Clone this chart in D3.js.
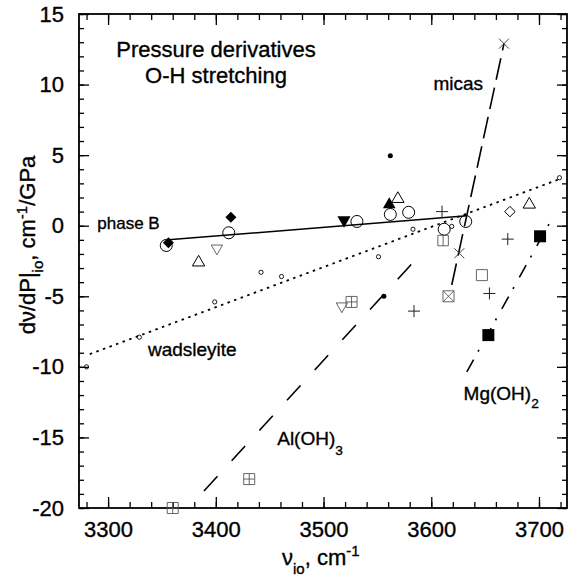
<!DOCTYPE html>
<html>
<head>
<meta charset="utf-8">
<script src="https://cdn.jsdelivr.net/npm/d3@7"></script>
<style>
  body { margin: 0; background: #fff; }
  text { font-family: "Liberation Sans", Arial, sans-serif; stroke: #000; stroke-width: 0.35px; }
</style>
</head>
<body>
<svg id="chart"></svg>
<script>
// axis ranges and ticks
const xDomain = [3273, 3726];
const yDomain = [-20, 15];
const xMajor = [3300, 3400, 3500, 3600, 3700];
const yMajor = [-20, -15, -10, -5, 0, 5, 10, 15];
const xMinor = d3.range(3280, 3721, 20);
const yMinor = d3.range(-20, 16, 1);

// fitted lines, end points as [nu, dnu/dP]
const phaseBFit = [[3356, -1.0], [3633, 0.7]];
const wadsleyiteFit = [[3283, -9.1], [3719, 3.3]];
const micasFit = [[3619, -4.2], [3667.5, 12.9]];
const alohFit = [[3389, -18.8], [3588, -2.2]];
const mgohFit = [[3633, -10.35], [3714, 0.76]];

// measured points, [nu, dnu/dP]
const openCircles = [[3354, -1.4], [3412, -0.5], [3531, 0.3], [3562, 0.8], [3579, 0.95], [3612, -0.25], [3632, 0.3]];
const smallCircles = [[3280, -10.0], [3329, -7.9], [3399, -5.4], [3442, -3.3], [3461, -3.6], [3551, -2.2], [3583, -0.25], [3619, -0.05], [3719, 3.4]];
const filledDiamonds = [[3356, -1.2], [3414, 0.6]];
const openDiamonds = [[3673, 1.0]];
const filledUpTriangles = [[3561, 1.5]];
const filledDownTriangles = [[3519, 0.4]];
const openUpTriangles = [[3384, -2.6], [3569, 1.9], [3691, 1.5]];
const openDownTriangles = [[3401, -1.6], [3517, -5.7]];
const filledSquares = [[3653, -7.75], [3701, -0.75]];
const openSquares = [[3647, -3.5]];
const splitSquares = [[3611, -1.05]];
const boxedPluses = [[3360, -20], [3431, -17.95], [3526, -5.4]];
const boxedCrosses = [[3616, -5.0]];
const pluses = [[3584, -6.05], [3610, 1.0], [3654, -4.8], [3671, -0.95]];
const crosses = [[3626, -1.95], [3667.5, 12.9]];
const filledDots = [[3556, -5.0], [3562, 4.95]];

const titleLines = ["Pressure derivatives", "O-H stretching"];

// set the dimensions and margins of the graph
const margin = {top: 14, right: 9, bottom: 69, left: 79},
    width = 576 - margin.left - margin.right,
    height = 577 - margin.top - margin.bottom;

const svg = d3.select("#chart").attr("width", 576).attr("height", 577);
const g = svg.append("g").attr("transform", `translate(${margin.left},${margin.top})`);

const x = d3.scaleLinear().domain(xDomain).range([0, width]);
const y = d3.scaleLinear().domain(yDomain).range([height, 0]);

// ticks on all four sides, pointing in
function tickAxis(axis, values, size, labels) {
  return sel => {
    sel.call(axis.tickValues(values).tickSize(-size).tickSizeOuter(0)
        .tickFormat(labels ? (d => String(d)) : ""))
      .attr("font-size", 22).attr("font-family", null);
    sel.select(".domain").remove();
    sel.selectAll(".tick line").attr("stroke-width", 1.3);
  };
}
g.append("g").attr("transform", `translate(0,${height})`)
  .call(tickAxis(d3.axisBottom(x), xMinor, 6, false));
g.append("g").attr("transform", `translate(0,${height})`)
  .call(tickAxis(d3.axisBottom(x).tickPadding(13), xMajor, 11, true));
g.append("g").call(tickAxis(d3.axisTop(x), xMinor, 6, false));
g.append("g").call(tickAxis(d3.axisTop(x), xMajor, 11, false));
g.append("g").call(tickAxis(d3.axisLeft(y), yMinor, 5, false));
g.append("g").call(tickAxis(d3.axisLeft(y).tickPadding(15), yMajor, 10, true));
g.append("g").attr("transform", `translate(${width},0)`)
  .call(tickAxis(d3.axisRight(y), yMinor, 5, false));
g.append("g").attr("transform", `translate(${width},0)`)
  .call(tickAxis(d3.axisRight(y), yMajor, 10, false));

g.append("rect").attr("width", width).attr("height", height)
  .attr("fill", "none").attr("stroke", "#000").attr("stroke-width", 1.8);

// fitted lines
const line = d3.line().x(d => x(d[0])).y(d => y(d[1]));
const fits = [
  [phaseBFit, null, 1.5],
  [wadsleyiteFit, "2.5,4.5", 1.8],
  [micasFit, "22,8", 1.6],
  [alohFit, "20,21", 1.6],
  [mgohFit, "14,9,2,11", 1.6]
];
fits.forEach(([pts, dash, w]) => {
  g.append("path").attr("d", line(pts)).attr("fill", "none")
    .attr("stroke", "#000").attr("stroke-width", w)
    .attr("stroke-dasharray", dash);
});

// markers
const symbolVBar = {draw(ctx, size) { const r = Math.sqrt(size) / 2; ctx.moveTo(0, -r); ctx.lineTo(0, r); }};
function marks(data, layers) {
  layers.forEach(l => {
    g.append("g").selectAll("path").data(data).join("path")
      .attr("transform", d => `translate(${x(d[0])},${y(d[1])})` + (l.rotate ? ` rotate(${l.rotate})` : ""))
      .attr("d", d3.symbol().type(l.type).size(l.size))
      .attr("fill", l.fill || "none")
      .attr("stroke", l.fill ? "none" : (l.stroke || "#000"))
      .attr("stroke-width", l.width || 1);
  });
}
const grey = "#555";
marks(smallCircles, [{type: d3.symbolCircle, size: 14, width: 0.9}]);
marks(openCircles, [{type: d3.symbolCircle, size: 113, width: 1}]);
marks(filledDiamonds, [{type: d3.symbolDiamond2, size: 77, fill: "#000"}]);
marks(openDiamonds, [{type: d3.symbolDiamond2, size: 70, width: 1}]);
marks(filledUpTriangles, [{type: d3.symbolTriangle, size: 70, fill: "#000"}]);
marks(filledDownTriangles, [{type: d3.symbolTriangle, size: 75, fill: "#000", rotate: 180}]);
marks(openUpTriangles, [{type: d3.symbolTriangle, size: 66, width: 1}]);
marks(openDownTriangles, [{type: d3.symbolTriangle, size: 55, width: 0.9, stroke: grey, rotate: 180}]);
marks(filledSquares, [{type: d3.symbolSquare, size: 144, fill: "#000"}]);
marks(openSquares, [{type: d3.symbolSquare, size: 121, width: 0.9, stroke: grey}]);
marks(splitSquares, [{type: d3.symbolSquare, size: 110, width: 0.9, stroke: grey},
                     {type: symbolVBar, size: 110, width: 0.9, stroke: grey}]);
marks(boxedPluses, [{type: d3.symbolSquare, size: 121, width: 0.9, stroke: grey},
                    {type: d3.symbolPlus, size: 41, width: 0.9, stroke: grey}]);
marks(boxedCrosses, [{type: d3.symbolSquare, size: 121, width: 0.9, stroke: grey},
                     {type: d3.symbolTimes, size: 80, width: 0.9, stroke: grey}]);
marks(pluses, [{type: d3.symbolPlus, size: 49, width: 1, stroke: "#222"}]);
marks(crosses, [{type: d3.symbolTimes, size: 67, width: 0.9, stroke: "#333"}]);
marks(filledDots, [{type: d3.symbolCircle, size: 20, fill: "#000"}]);

// text labels
const lab = svg.append("g").attr("font-size", 22);
lab.selectAll("text.title").data(titleLines).join("text")
  .attr("x", 216).attr("y", (d, i) => 57 + i * 26)
  .attr("text-anchor", "middle").text(d => d);

function label(txt, sub, v, d, size, shift) {
  const t = g.append("text").attr("x", x(v)).attr("y", y(d)).attr("font-size", size).text(txt);
  if (sub) t.append("tspan").attr("dy", shift).attr("font-size", size * 0.72).text(sub);
}
label("micas", null, 3602, 9.6, 19);
label("phase B", null, 3290, -0.2, 17);
label("wadsleyite", null, 3337, -9.25, 19);
label("Al(OH)", "3", 3457, -15.55, 19, 10);
label("Mg(OH)", "2", 3630, -12.35, 19, 8);

// axis titles
const xt = svg.append("text").attr("x", 282).attr("y", 565).attr("font-size", 22);
xt.append("tspan").text("ν");
xt.append("tspan").attr("dy", 9).attr("font-size", 15).text("io");
xt.append("tspan").attr("dy", -9).text(", cm");
xt.append("tspan").attr("dy", -9).attr("font-size", 15).text("-1");

const yt = svg.append("text").attr("transform", "translate(35,245) rotate(-90)")
  .attr("text-anchor", "middle").attr("font-size", 22);
yt.append("tspan").text("dν/dP|");
yt.append("tspan").attr("dy", 8).attr("font-size", 15).text("io");
yt.append("tspan").attr("dy", -8).text(", cm");
yt.append("tspan").attr("dy", -8).attr("font-size", 15).text("-1");
yt.append("tspan").attr("dy", 8).text("/GPa");
</script>
</body>
</html>
